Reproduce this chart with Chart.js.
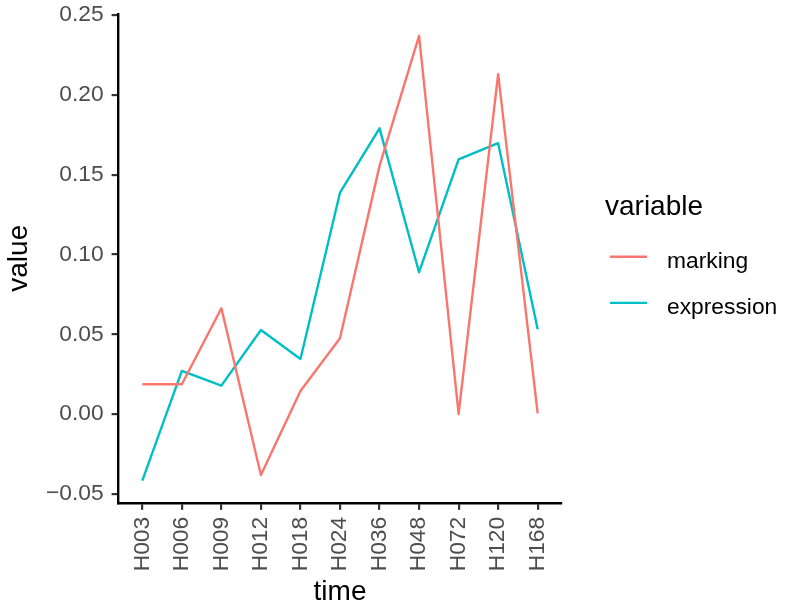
<!DOCTYPE html>
<html>
<head>
<meta charset="utf-8">
<script src="https://cdn.jsdelivr.net/npm/chart.js@4/dist/chart.umd.min.js"></script>
<style>
  html, body { margin: 0; padding: 0; background: #fff; }
  #wrap { width: 785px; height: 606px; }
</style>
</head>
<body>
<div id="wrap"><canvas id="lineChart" width="785" height="606"></canvas></div>
<script>
// === data ===
const times = ['H003', 'H006', 'H009', 'H012', 'H018', 'H024', 'H036', 'H048', 'H072', 'H120', 'H168'];
const marking = [0.0187, 0.0187, 0.0663, -0.0381, 0.0145, 0.0475, 0.1555, 0.2369, 0.0001, 0.2130, 0.0005];
const expression = [-0.0416, 0.0271, 0.0179, 0.0527, 0.0346, 0.1387, 0.1790, 0.0889, 0.1596, 0.1697, 0.0532];
const yTicks = [-0.05, 0.00, 0.05, 0.10, 0.15, 0.20, 0.25];

const FONT = '"Liberation Sans", Arial, Helvetica, sans-serif';
const RED = '#F8766D';
const CYAN = '#00BFC4';

// ggplot-like 5% expansion of the y range
const allVals = marking.concat(expression);
const lo = Math.min(...allVals), hi = Math.max(...allVals);
const pad = (hi - lo) * 0.05;

const toPoints = arr => arr.map((v, i) => ({ x: i, y: v }));

// legend drawn on the canvas at the right, like ggplot
const sideLegend = {
    id: 'sideLegend',
    afterDraw(chart) {
        const ctx = chart.ctx;
        ctx.save();
        ctx.fillStyle = '#000';
        ctx.textAlign = 'left';
        ctx.textBaseline = 'alphabetic';
        ctx.font = '28px ' + FONT;
        ctx.fillText('variable', 605, 215);
        ctx.font = '22.8px ' + FONT;
        const rows = [256.7, 302.9];
        chart.data.datasets.forEach((ds, i) => {
            const y = rows[i];
            ctx.strokeStyle = ds.borderColor;
            ctx.lineWidth = 2.4;
            ctx.beginPath();
            ctx.moveTo(610, y);
            ctx.lineTo(647, y);
            ctx.stroke();
            ctx.fillStyle = '#000';
            ctx.fillText(ds.label, 667, y + 10.8);
        });
        ctx.restore();
    }
};

new Chart(document.getElementById('lineChart'), {
    type: 'line',
    data: {
        datasets: [
            {
                label: 'marking',
                data: toPoints(marking),
                borderColor: RED,
                borderWidth: 2.4,
                pointRadius: 0,
                tension: 0,
                borderJoinStyle: 'round'
            },
            {
                label: 'expression',
                data: toPoints(expression),
                borderColor: CYAN,
                borderWidth: 2.4,
                pointRadius: 0,
                tension: 0,
                borderJoinStyle: 'round'
            }
        ]
    },
    options: {
        responsive: false,
        animation: false,
        layout: { padding: { left: 0, top: 13.7, right: 223.6, bottom: 0 } },
        plugins: { legend: { display: false }, tooltip: { enabled: false } },
        scales: {
            x: {
                type: 'linear',
                min: -0.6,
                max: times.length - 0.4,
                afterBuildTicks: s => { s.ticks = times.map((t, i) => ({ value: i })); },
                afterFit: s => { s.height = 103.2; s.paddingLeft = 0; s.paddingRight = 0; },
                grid: { drawOnChartArea: false, drawTicks: true, tickLength: 7, color: '#333', lineWidth: 2.2 },
                border: { display: true, color: '#000', width: 2.4 },
                ticks: {
                    autoSkip: false, maxRotation: 90, minRotation: 90, padding: 7,
                    color: '#4D4D4D', font: { family: FONT, size: 22.8 },
                    callback: v => times[v]
                },
                title: {
                    display: true, text: 'time', color: '#000',
                    font: { family: FONT, size: 28, lineHeight: 1 },
                    padding: { top: 0, bottom: 0 }
                }
            },
            y: {
                min: lo - pad,
                max: hi + pad,
                afterBuildTicks: s => { s.ticks = yTicks.map(v => ({ value: v })); },
                afterFit: s => { s.width = 118.6; s.paddingTop = 0; s.paddingBottom = 0; },
                grid: { drawOnChartArea: false, drawTicks: true, tickLength: 7, color: '#333', lineWidth: 2.2 },
                border: { display: true, color: '#000', width: 2.4 },
                ticks: {
                    padding: 8, color: '#4D4D4D', font: { family: FONT, size: 22.8 },
                    callback: v => v.toFixed(2).replace('-', '\u2212')
                },
                title: {
                    display: true, text: 'value', color: '#000',
                    font: { family: FONT, size: 28, lineHeight: 1 },
                    padding: { top: 5, bottom: 0 }
                }
            }
        }
    },
    plugins: [sideLegend]
});
</script>
</body>
</html>
